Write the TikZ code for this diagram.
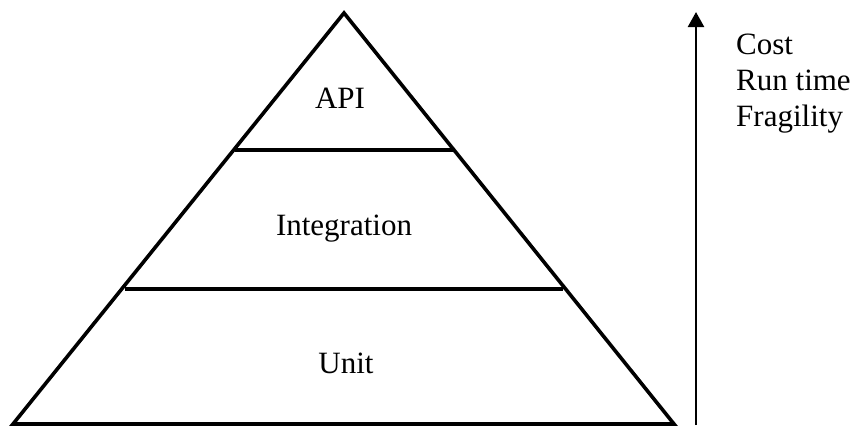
\documentclass[tikz,border=0pt]{standalone}
\usepackage{fontspec}
\setmainfont{Liberation Serif}
\usetikzlibrary{arrows.meta}
\begin{document}
\begin{tikzpicture}[x=1pt,y=-1pt,
  edge/.style={line width=3.6pt,line join=miter},
  label/.style={font=\fontsize{31}{36}\selectfont,inner sep=0pt,anchor=base},
  side/.style={font=\fontsize{31}{36}\selectfont,inner sep=0pt,anchor=base west},
  axis/.style={line width=2.4pt,-{Triangle[width=16pt,length=15pt]}}]
\useasboundingbox (0,0) rectangle (857,429);
% pyramid outline
\coordinate (apex) at (344,13);
\coordinate (bl) at (13,424);
\coordinate (br) at (674,424);
\draw[edge] (bl) -- (apex) -- (br) -- cycle;
% layer separators
\coordinate (s1l) at (235,150);
\coordinate (s1r) at (453,150);
\coordinate (s2l) at (125,289);
\coordinate (s2r) at (563,289);
\draw[edge] (s1l) -- (s1r);
\draw[edge] (s2l) -- (s2r);
% layer names
\node[label] (api) at (340,108) {API};
\node[label] (integ) at (344,235) {Integration};
\node[label] (unit) at (346,373) {Unit};
% growth axis
\coordinate (ax0) at (696,425);
\coordinate (ax1) at (696,12);
\draw[axis] (ax0) -- (ax1);
\node[side] (cost) at (736,54) {Cost};
\node[side] (run) at (736,90) {Run time};
\node[side] (frag) at (736,126) {Fragility};
\end{tikzpicture}
\end{document}
